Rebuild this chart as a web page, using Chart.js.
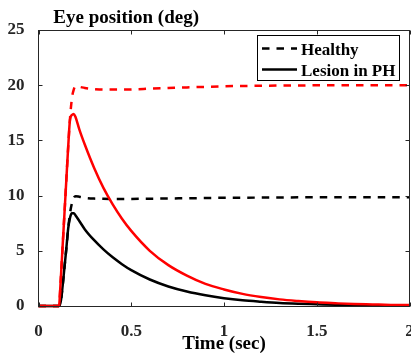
<!DOCTYPE html>
<html>
<head>
<meta charset="utf-8">
<script src="https://cdn.jsdelivr.net/npm/chart.js@4/dist/chart.umd.min.js"></script>
<style>
  html, body { margin: 0; padding: 0; background: #fff; }
  #wrap { width: 411px; height: 356px; }
</style>
</head>
<body>
<div id="wrap"><canvas id="eyeChart" width="411" height="356"></canvas></div>
<script>
// time base (sec), shared by all four traces
const timeSec = [0, 0.11, 0.12, 0.13, 0.14, 0.15, 0.16, 0.17, 0.18, 0.19, 0.2, 0.22, 0.25,
  0.3, 0.35, 0.4, 0.45, 0.5, 0.6, 0.7, 0.8, 0.9, 1.0, 1.1, 1.2, 1.3, 1.4, 1.5, 1.6, 1.7, 1.8, 1.9, 2.0];

// 20 deg saccade (red)
const healthy20 = [0, 0, 2.4, 5.4, 8.4, 11.4, 14.4, 17.0, 18.8, 19.6, 19.9, 19.85, 19.75,
  19.65, 19.6, 19.6, 19.6, 19.62, 19.68, 19.74, 19.8, 19.85, 19.9, 19.93, 19.95, 19.97, 19.98, 19.99, 20, 20, 20, 20, 20];
const lesion20 = [0, 0, 2.4, 5.4, 8.4, 11.4, 14.4, 16.9, 17.3, 17.4, 17.1, 16.0, 14.6,
  12.5, 10.7, 9.2, 7.9, 6.8, 5.0, 3.7, 2.75, 2.0, 1.5, 1.1, 0.82, 0.6, 0.45, 0.33, 0.25, 0.18, 0.14, 0.1, 0.08];

// 10 deg saccade (black)
const healthy10 = [0, 0, 0.4, 1.8, 3.5, 5.2, 7.0, 8.4, 9.3, 9.8, 9.95, 9.9, 9.8,
  9.73, 9.71, 9.7, 9.7, 9.7, 9.72, 9.74, 9.76, 9.78, 9.8, 9.81, 9.82, 9.83, 9.84, 9.84, 9.85, 9.85, 9.85, 9.85, 9.85];
const lesion10 = [0, 0, 0.4, 1.8, 3.5, 5.2, 7.0, 8.0, 8.4, 8.4, 8.2, 7.7, 6.94,
  5.96, 5.13, 4.41, 3.79, 3.25, 2.4, 1.77, 1.31, 0.97, 0.71, 0.52, 0.39, 0.28, 0.21, 0.16, 0.11, 0.085, 0.06, 0.045, 0.03];

const legendLabels = ['Healthy', 'Lesion in PH'];
const yTitle = 'Eye position (deg)';
const xTitle = 'Time (sec)';

const AXIS = '#262626';
const SERIF = '"Liberation Serif", "Times New Roman", serif';
const DASH = [7.5, 7];
const LW = 2.5;

function pts(ys) {
  return timeSec.map((t, i) => ({ x: t, y: ys[i] }));
}

function line(data, color, dashed) {
  return {
    data: pts(data),
    borderColor: color,
    borderWidth: LW,
    borderDash: dashed ? DASH : [],
    pointRadius: 0,
    fill: false,
    cubicInterpolationMode: 'monotone',
    clip: 4
  };
}

// axes box, inward ticks, y title and the boxed legend (MATLAB look)
const matlabBox = {
  id: 'matlabBox',
  afterDatasetsDraw(chart) {
    const { ctx, chartArea: a, scales: { x, y } } = chart;
    const L = Math.floor(a.left) + 0.5, R = Math.floor(a.right) + 0.5;
    const T = Math.floor(a.top) + 0.5, B = Math.floor(a.bottom) + 0.5;
    ctx.save();
    ctx.strokeStyle = AXIS;
    ctx.lineWidth = 1;
    ctx.setLineDash([]);
    ctx.strokeRect(L, T, R - L, B - T);

    ctx.beginPath();
    x.ticks.forEach(t => {
      const p = Math.round(x.getPixelForValue(t.value)) + 0.5;
      ctx.moveTo(p, B); ctx.lineTo(p, B - 4);
      ctx.moveTo(p, T); ctx.lineTo(p, T + 4);
    });
    y.ticks.forEach(t => {
      const p = Math.round(y.getPixelForValue(t.value)) + 0.5;
      ctx.moveTo(L, p); ctx.lineTo(L + 4, p);
      ctx.moveTo(R, p); ctx.lineTo(R - 4, p);
    });
    ctx.stroke();

    // y title sits above the axes
    ctx.fillStyle = '#000';
    ctx.font = 'bold 19px ' + SERIF;
    ctx.textBaseline = 'alphabetic';
    ctx.textAlign = 'left';
    ctx.fillText(yTitle, 53.3, 22.7);

    // legend
    const bx = 257.5, by = 35.5, bw = 142, bh = 45;
    ctx.fillStyle = '#fff';
    ctx.fillRect(bx, by, bw, bh);
    ctx.strokeStyle = '#000';
    ctx.strokeRect(bx, by, bw, bh);
    ctx.lineWidth = LW;
    ctx.setLineDash(DASH);
    ctx.beginPath(); ctx.moveTo(262, 48.5); ctx.lineTo(297, 48.5); ctx.stroke();
    ctx.setLineDash([]);
    ctx.beginPath(); ctx.moveTo(262, 69.5); ctx.lineTo(297, 69.5); ctx.stroke();
    ctx.fillStyle = '#000';
    ctx.font = 'bold 17px ' + SERIF;
    ctx.fillText(legendLabels[0], 301, 55);
    ctx.fillText(legendLabels[1], 301, 76);
    ctx.restore();
  }
};

new Chart(document.getElementById('eyeChart'), {
  type: 'line',
  data: {
    datasets: [
      line(healthy20, '#ff0000', true),
      line(lesion20, '#ff0000', false),
      line(healthy10, '#000000', true),
      line(lesion10, '#000000', false)
    ]
  },
  options: {
    responsive: false,
    devicePixelRatio: 1,
    animation: false,
    events: [],
    layout: { padding: { top: 30, right: 1.5, bottom: 0, left: 0 } },
    plugins: { legend: { display: false }, tooltip: { enabled: false } },
    scales: {
      x: {
        type: 'linear',
        min: 0, max: 2,
        grid: { display: false },
        border: { display: false },
        ticks: {
          stepSize: 0.5,
          padding: 7,
          color: AXIS,
          maxRotation: 0,
          callback: v => String(v),
          font: { family: SERIF, size: 17, weight: 'bold' }
        },
        title: {
          display: true,
          text: xTitle,
          color: '#000',
          padding: { top: 0, bottom: 0.5 },
          font: { family: SERIF, size: 19, weight: 'bold' }
        },
        afterFit(s) { s.height = 50; s.paddingLeft = 0; s.paddingRight = 0; }
      },
      y: {
        min: 0, max: 25,
        grid: { display: false },
        border: { display: false },
        ticks: {
          stepSize: 5,
          padding: 6,
          color: AXIS,
          callback: v => String(v),
          font: { family: SERIF, size: 17, weight: 'bold' }
        },
        afterFit(s) { s.width = 38.5; s.paddingTop = 0; s.paddingBottom = 0; }
      }
    }
  },
  plugins: [matlabBox]
});
</script>
</body>
</html>
